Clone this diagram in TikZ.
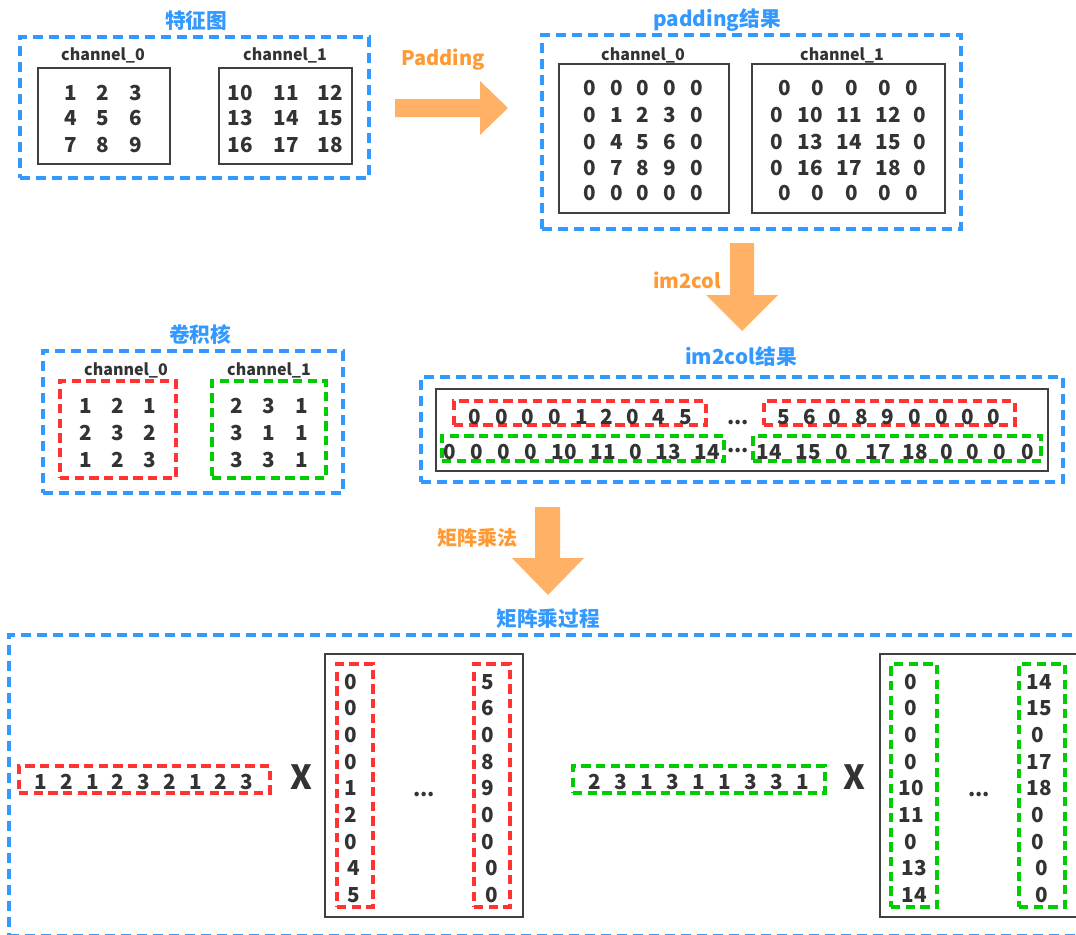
\documentclass[tikz,border=0pt]{standalone}
\usepackage{fontspec}
\setmainfont{Noto Sans CJK SC}
\usetikzlibrary{fit}

\definecolor{frameblue}{RGB}{51,153,255}
\definecolor{kred}{RGB}{255,51,51}
\definecolor{kgreen}{RGB}{0,204,0}
\definecolor{ink}{RGB}{51,51,51}
\definecolor{boxgray}{RGB}{64,64,64}
\definecolor{arrowfill}{RGB}{255,178,102}
\definecolor{arrowtext}{RGB}{255,153,51}

\tikzset{
  group/.style={draw=frameblue, line width=2.4pt, dash pattern=on 7.5pt off 4.5pt, inner sep=0pt},
  title/.style={text=frameblue, font=\fontsize{15.5}{18}\selectfont\bfseries},
  chan/.style={text=ink, font=\fontsize{12}{14}\selectfont\bfseries},
  num/.style={text=ink, font=\fontsize{15.5}{18}\selectfont\bfseries, inner sep=0pt},
  bignum/.style={text=ink, font=\fontsize{25}{28}\selectfont\bfseries, inner sep=0pt},
  matbox/.style={draw=boxgray, line width=1.6pt, inner sep=0pt},
  redbox/.style={draw=kred, line width=2.3pt, dash pattern=on 7pt off 4pt, inner sep=0pt},
  greenbox/.style={draw=kgreen, line width=2.3pt, dash pattern=on 7pt off 4pt, inner sep=0pt},
  oplabel/.style={text=arrowtext, font=\fontsize{15}{18}\selectfont\bfseries},
  blockarrow/.style={fill=arrowfill, draw=none},
}

\begin{document}
\begin{tikzpicture}[x=0.75pt, y=-0.75pt]
\useasboundingbox (0,0) rectangle (1076,935);
\fill[white] (0,0) rectangle (1076,935);
\clip (0,0) rectangle (1076,935);

% ---------------- feature map ----------------
\node[title] (tfm) at (196,21) {特征图};
\node[group, fit={(20,37) (369,178)}] (fm) {};
\node[chan] (fmc0) at (103,55) {channel\_0};
\node[chan] (fmc1) at (285,55) {channel\_1};
\node[matbox, fit={(38,68) (170,164)}] (fm0) {};
\node[matbox, fit={(219,68) (352,164)}] (fm1) {};
\foreach \r/\y in {0/93,1/118,2/145}{
  \foreach \c/\x in {0/71,1/103,2/136}{
    \pgfmathtruncatemacro{\v}{\r*3+\c+1}
    \node[num] (fa-\r-\c) at (\x,\y) {\v};
  }
  \foreach \c/\x in {0/240,1/286,2/330}{
    \pgfmathtruncatemacro{\v}{\r*3+\c+10}
    \node[num] (fb-\r-\c) at (\x,\y) {\v};
  }
}

% ---------------- padding arrow ----------------
\node[oplabel] (lpad) at (443,60) {Padding};
\fill[blockarrow] (395,99) -- (480,99) -- (480,81) -- (508,108) -- (480,135)
  -- (480,117) -- (395,117) -- cycle;

% ---------------- padded maps ----------------
\node[title] (tpad) at (717,20) {padding结果};
\node[group, fit={(542,35) (961,229)}] (pad) {};
\node[chan] (pc0) at (643,55) {channel\_0};
\node[chan] (pc1) at (842,55) {channel\_1};
\node[matbox, fit={(559,64) (729,213)}] (pad0) {};
\node[matbox, fit={(752,64) (945,213)}] (pad1) {};
\foreach \r/\y/\vals in {0/88/{0,0,0,0,0},1/115/{0,1,2,3,0},2/142/{0,4,5,6,0},3/168/{0,7,8,9,0},4/193/{0,0,0,0,0}}{
  \foreach \x [count=\c] in {590,617,643,670,697}{
    \pgfmathtruncatemacro{\v}{{\vals}[\c-1]}
    \node[num] (pa-\r-\c) at (\x,\y) {\v};
  }
}
\foreach \x [count=\c] in {785,818,852,885,912}{
  \node[num] (pb-0-\c) at (\x,88) {0};
  \node[num] (pb-4-\c) at (\x,193) {0};
}
\foreach \r/\y/\vals in {1/115/{0,10,11,12,0},2/142/{0,13,14,15,0},3/168/{0,16,17,18,0}}{
  \foreach \x [count=\c] in {777,810,849,888,920}{
    \pgfmathtruncatemacro{\v}{{\vals}[\c-1]}
    \node[num] (pb-\r-\c) at (\x,\y) {\v};
  }
}

% ---------------- im2col arrow ----------------
\node[oplabel] (lim) at (687,280) {im2col};
\fill[blockarrow] (730,243) -- (754,243) -- (754,295) -- (778,295) -- (742,331)
  -- (706,295) -- (730,295) -- cycle;

% ---------------- kernels ----------------
\node[title] (tker) at (200,335) {卷积核};
\node[group, fit={(43,351) (343,493)}] (ker) {};
\node[chan] (kc0) at (126,370) {channel\_0};
\node[chan] (kc1) at (269,370) {channel\_1};
\node[redbox, fit={(60,381) (176,478)}] (ker0) {};
\node[greenbox, fit={(212,381) (326,478)}] (ker1) {};
\foreach \r/\y/\va/\vb in {0/406/{1,2,1}/{2,3,1},1/433/{2,3,2}/{3,1,1},2/460/{1,2,3}/{3,3,1}}{
  \foreach \x [count=\c] in {86,118,150}{
    \pgfmathtruncatemacro{\v}{{\va}[\c-1]}
    \node[num] (ka-\r-\c) at (\x,\y) {\v};
  }
  \foreach \x [count=\c] in {237,269,302}{
    \pgfmathtruncatemacro{\v}{{\vb}[\c-1]}
    \node[num] (kb-\r-\c) at (\x,\y) {\v};
  }
}

% ---------------- im2col result ----------------
\node[title] (tim) at (741,357) {im2col结果};
\node[group, fit={(421,377) (1063,482)}] (imc) {};
\node[matbox, fit={(436,389) (1048,471)}] (imbox) {};
\node[redbox, fit={(454,401) (706,425)}] (ra) {};
\node[redbox, fit={(764,401) (1015,425)}] (rb) {};
\node[greenbox, fit={(442,436) (724,461)}] (ga) {};
\node[greenbox, fit={(753,436) (1041,461)}] (gb) {};
\foreach \x/\v [count=\i] in {475/0,502/0,528/0,555/0,582/1,607/2,633/0,659/4,686/5}
  \node[num] (ra-\i) at (\x,417) {\v};
\foreach \x/\v [count=\i] in {784/5,810/6,835/0,862/8,888/9,915/0,942/0,968/0,994/0}
  \node[num] (rb-\i) at (\x,417) {\v};
\foreach \x/\v [count=\i] in {450/0,477/0,504/0,531/0,564/10,603/11,636/0,668/13,707/14}
  \node[num] (ga-\i) at (\x,452) {\v};
\foreach \x/\v [count=\i] in {769/14,808/15,842/0,878/17,915/18,947/0,973/0,1000/0,1028/0}
  \node[num] (gb-\i) at (\x,452) {\v};
\node[num] (dotsa) at (738,423) {...};
\node[num] (dotsb) at (738,451) {...};

% ---------------- matmul arrow ----------------
\node[oplabel] (lmm) at (477,538) {矩阵乘法};
\fill[blockarrow] (535,507) -- (560,507) -- (560,558) -- (584,558) -- (548,595)
  -- (512,558) -- (535,558) -- cycle;

% ---------------- matrix multiplication ----------------
\node[title] (tmm) at (548,619) {矩阵乘过程};
\node[group, fit={(9,635) (1110,935.5)}] (mm) {};

% channel 0 product
\node[redbox, fit={(19,766) (270,793)}] (wrow0) {};
\foreach \x/\v [count=\i] in {41/1,67/2,93/1,118/2,144/3,170/2,196/1,221/2,247/3}
  \node[num] (w0-\i) at (\x,782) {\v};
\node[bignum] (times0) at (301,777) {X};
\node[matbox, fit={(325,654) (523,917)}] (mat0) {};
\node[redbox, fit={(337,664) (373,907)}] (col0a) {};
\node[redbox, fit={(474,664) (510,907)}] (col0b) {};
\foreach \y/\v/\x [count=\i] in {682/0/351,708/0/351,735/0/351,762/0/351,788/1/351,815/2/351,842/0/351,868/4/354,895/5/354}
  \node[num] (c0a-\i) at (\x,\y) {\v};
\foreach \y/\v/\x [count=\i] in {682/5/488,708/6/488,735/0/488,762/8/488,788/9/488,815/0/488,842/0/488,868/0/492,895/0/492}
  \node[num] (c0b-\i) at (\x,\y) {\v};
\node[num] (dots0) at (424,795) {...};

% channel 1 product
\node[greenbox, fit={(573,766) (825,793)}] (wrow1) {};
\foreach \x/\v [count=\i] in {595/2,621/3,647/1,673/3,699/1,725/1,751/3,777/3,803/1}
  \node[num] (w1-\i) at (\x,782) {\v};
\node[bignum] (times1) at (854,777) {X};
\node[matbox, fit={(880,654) (1100,917)}] (mat1) {};
\node[greenbox, fit={(891,664) (937,907)}] (col1a) {};
\node[greenbox, fit={(1019,664) (1065,907)}] (col1b) {};
\foreach \y/\v/\x [count=\i] in {682/0/911,708/0/911,735/0/911,762/0/911,788/10/911,815/11/911,842/0/911,868/13/914,895/14/914}
  \node[num] (c1a-\i) at (\x,\y) {\v};
\foreach \y/\v/\x [count=\i] in {682/14/1039,708/15/1039,735/0/1038,762/17/1039,788/18/1039,815/0/1038,842/0/1038,868/0/1042,895/0/1042}
  \node[num] (c1b-\i) at (\x,\y) {\v};
\node[num] (dots1) at (979,795) {...};
\end{tikzpicture}
\end{document}
